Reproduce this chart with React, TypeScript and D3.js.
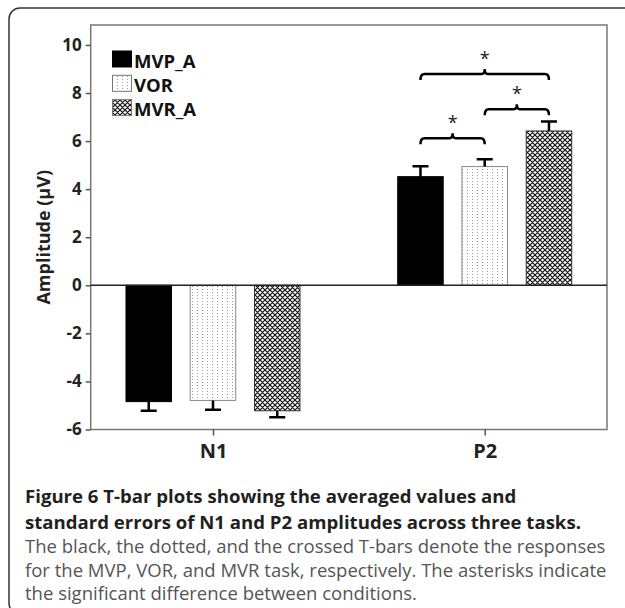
import { useEffect, useRef } from "react";
import * as d3 from "d3";

// data
const components = ["N1", "P2"];
const tasks = ["MVP_A", "VOR", "MVR_A"];
const means: Record<string, number[]> = {
  N1: [-4.84, -4.79, -5.22],
  P2: [4.52, 4.94, 6.42],
};
const sems: Record<string, number[]> = {
  N1: [0.38, 0.39, 0.27],
  P2: [0.43, 0.3, 0.39],
};
const yTicks = [-6, -4, -2, 0, 2, 4, 6, 8, 10];
// significance brackets on P2: [from task, to task, level]
const brackets: [string, string, number][] = [
  ["MVP_A", "VOR", 6.12],
  ["VOR", "MVR_A", 7.32],
  ["MVP_A", "MVR_A", 8.79],
];
const captionBold = [
  "Figure 6 T-bar plots showing the averaged values and",
  "standard errors of N1 and P2 amplitudes across three tasks.",
];
const captionPlain = [
  "The black, the dotted, and the crossed T-bars denote the responses",
  "for the MVP, VOR, and MVR task, respectively. The asterisks indicate",
  "the significant difference between conditions.",
];

export default function App() {
  const ref = useRef<SVGSVGElement>(null);

  useEffect(() => {
    const width = 625;
    const height = 608;
    const left = 90.7;
    const right = 607;
    const top = 25;
    const bottom = 429.5;
    const font = "'Open Sans', 'DejaVu Sans', sans-serif";

    const svg = d3.select(ref.current);
    svg.selectAll("*").remove();
    svg.attr("width", width).attr("height", height).attr("viewBox", [0, 0, width, height].join(" "));

    // fill patterns
    const defs = svg.append("defs");
    const dots = defs.append("pattern")
      .attr("id", "dots")
      .attr("patternUnits", "userSpaceOnUse")
      .attr("width", 5)
      .attr("height", 3);
    dots.append("rect").attr("width", 5).attr("height", 3).attr("fill", "white");
    dots.append("rect").attr("x", 2).attr("y", 1).attr("width", 1).attr("height", 1).attr("fill", "#999");

    const cross = defs.append("pattern")
      .attr("id", "cross")
      .attr("patternUnits", "userSpaceOnUse")
      .attr("width", 5)
      .attr("height", 5);
    cross.append("rect").attr("width", 5).attr("height", 5).attr("fill", "white");
    cross.append("path")
      .attr("d", "M0,0L5,5M5,0L0,5M-1,4L1,6M4,-1L6,1M-1,1L1,-1M4,6L6,4")
      .attr("stroke", "#111")
      .attr("stroke-width", 1.2);

    const fills: Record<string, string> = { MVP_A: "#000", VOR: "url(#dots)", MVR_A: "url(#cross)" };
    const strokes: Record<string, string> = { MVP_A: "#000", VOR: "#888", MVR_A: "#333" };

    // outer panel
    svg.append("rect")
      .attr("x", 9).attr("y", 8)
      .attr("width", 640).attr("height", 606)
      .attr("rx", 11)
      .attr("fill", "white")
      .attr("stroke", "#333")
      .attr("stroke-width", 1.5);

    const x = d3.scalePoint().domain(components).range([left, right]).padding(0.45);
    const xs = d3.scaleBand().domain(tasks).range([-87, 87]).paddingInner(0.292);
    const y = d3.scaleLinear().domain([-6, 10.83]).range([bottom, top]);

    // frame
    svg.append("rect")
      .attr("x", left).attr("y", top)
      .attr("width", right - left).attr("height", bottom - top)
      .attr("fill", "none")
      .attr("stroke", "#777")
      .attr("stroke-width", 1.5);

    // y axis
    const yAxis = svg.append("g")
      .attr("transform", `translate(${left},0)`)
      .call(d3.axisLeft(y).tickValues(yTicks).tickSize(5).tickPadding(4).tickFormat(d => String(d)));
    yAxis.select(".domain").remove();
    yAxis.selectAll("line").attr("stroke", "#555").attr("stroke-width", 1.5);
    yAxis.selectAll("text")
      .attr("font-family", font)
      .attr("font-size", 17)
      .attr("font-weight", "bold")
      .attr("fill", "#222");

    // x axis
    const xAxis = svg.append("g")
      .attr("transform", `translate(0,${bottom})`)
      .call(d3.axisBottom(x).tickSize(6).tickPadding(8));
    xAxis.select(".domain").remove();
    xAxis.selectAll("line").attr("stroke", "#555").attr("stroke-width", 1.5);
    xAxis.selectAll("text")
      .attr("font-family", font)
      .attr("font-size", 20)
      .attr("font-weight", "bold")
      .attr("fill", "#222");

    svg.append("text")
      .attr("transform", `translate(50,${(top + bottom) / 2 + 10}) rotate(-90)`)
      .attr("text-anchor", "middle")
      .attr("font-family", font)
      .attr("font-size", 18)
      .attr("font-weight", "bold")
      .attr("fill", "#222")
      .text("Amplitude (µV)");

    // bars
    const rows = components.flatMap(c => tasks.map((t, i) => ({ c, t, v: means[c][i], se: sems[c][i] })));
    const bars = svg.append("g");
    bars.selectAll("rect")
      .data(rows)
      .join("rect")
      .attr("x", d => x(d.c)! + xs(d.t)!)
      .attr("width", xs.bandwidth())
      .attr("y", d => y(Math.max(0, d.v)))
      .attr("height", d => Math.abs(y(d.v) - y(0)))
      .attr("fill", d => fills[d.t])
      .attr("stroke", d => strokes[d.t])
      .attr("stroke-width", 1);

    // one-sided error bars
    const err = svg.append("g").attr("stroke", "#000").attr("stroke-width", 2.5).attr("fill", "none");
    err.selectAll("path")
      .data(rows)
      .join("path")
      .attr("d", d => {
        const cx = x(d.c)! + xs(d.t)! + xs.bandwidth() / 2;
        const end = d.v + Math.sign(d.v) * d.se;
        return `M${cx},${y(d.v)}V${y(end)}M${cx - 8},${y(end)}H${cx + 8}`;
      });

    // zero line
    svg.append("line")
      .attr("x1", left).attr("x2", right)
      .attr("y1", y(0)).attr("y2", y(0))
      .attr("stroke", "#222")
      .attr("stroke-width", 1.5);

    // significance brackets
    const br = svg.append("g");
    brackets.forEach(([a, b, lvl]) => {
      const x1 = x("P2")! + xs(a)! + xs.bandwidth() / 2;
      const x2 = x("P2")! + xs(b)! + xs.bandwidth() / 2;
      const xm = (x1 + x2) / 2;
      const yb = y(lvl);
      br.append("path")
        .attr("d", `M${x1},${yb + 6}Q${x1},${yb} ${x1 + 4},${yb}H${xm - 3}Q${xm},${yb} ${xm},${yb - 5}Q${xm},${yb} ${xm + 3},${yb}H${x2 - 4}Q${x2},${yb} ${x2},${yb + 6}`)
        .attr("fill", "none")
        .attr("stroke", "#000")
        .attr("stroke-width", 2.5);
      br.append("text")
        .attr("x", xm)
        .attr("y", yb - 9)
        .attr("text-anchor", "middle")
        .attr("font-family", font)
        .attr("font-size", 18)
        .attr("fill", "#222")
        .text("*");
    });

    // legend
    const legend = svg.append("g");
    tasks.forEach((t, i) => {
      legend.append("rect")
        .attr("x", 112.5).attr("y", 51 + i * 24.3)
        .attr("width", 19).attr("height", 16)
        .attr("fill", fills[t])
        .attr("stroke", t === "MVP_A" ? "#000" : "#777")
        .attr("stroke-width", 1);
      legend.append("text")
        .attr("x", 134).attr("y", 67.5 + i * 24.3)
        .attr("font-family", font)
        .attr("font-size", 18.5)
        .attr("font-weight", "bold")
        .attr("fill", "#111")
        .text(t);
    });

    // caption
    const cap = svg.append("g").attr("font-family", font);
    captionBold.forEach((line, i) => {
      cap.append("text")
        .attr("x", 25).attr("y", 503 + i * 26)
        .attr("font-size", 18.6)
        .attr("font-weight", "bold")
        .attr("fill", "#231f20")
        .text(line);
    });
    captionPlain.forEach((line, i) => {
      cap.append("text")
        .attr("x", 25).attr("y", 553 + i * 23.5)
        .attr("font-size", 18.5)
        .attr("fill", "#555")
        .text(line);
    });
  }, []);

  return <svg ref={ref} style={{ position: "absolute", left: 0, top: 0 }}></svg>;
}
